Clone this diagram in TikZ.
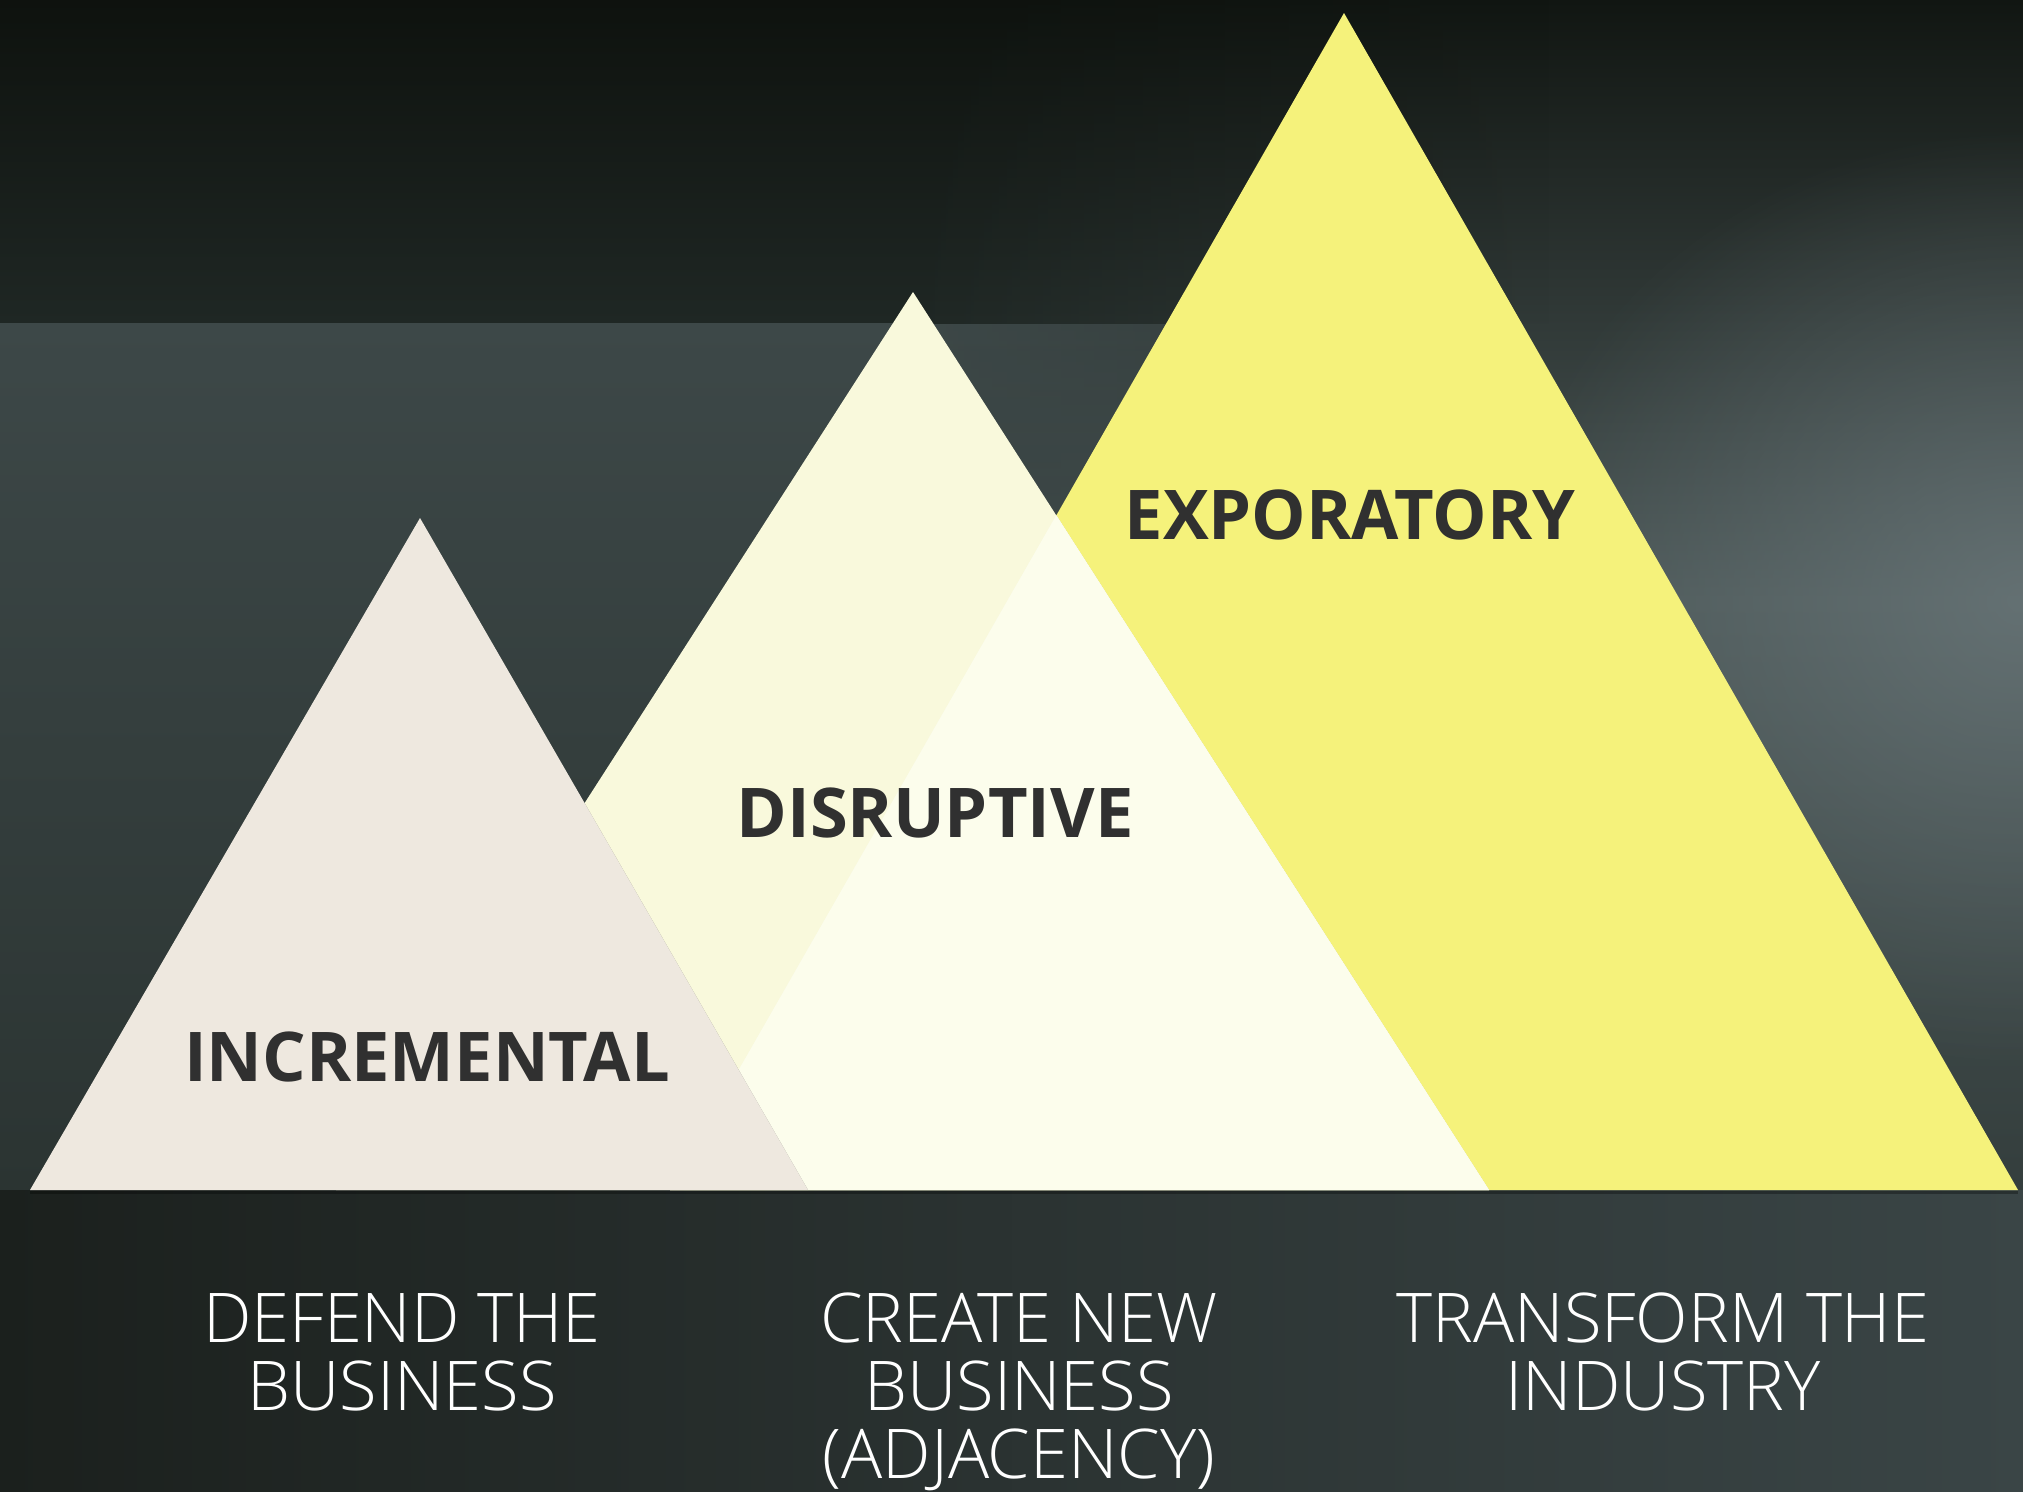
\documentclass[tikz,border=0pt]{standalone}
\usepackage{fontspec}
\setmainfont{Open Sans}
\IfFontExistsTF{Open Sans Light}{\newfontfamily\lightfont{Open Sans Light}}{\newfontfamily\lightfont{Open Sans}}
\usetikzlibrary{fadings,calc}
\definecolor{rtop}{HTML}{111612}
\definecolor{rmid}{HTML}{4C5858}
\definecolor{rbot}{HTML}{343E3D}
\definecolor{bandA}{HTML}{0E120E}
\definecolor{bandB}{HTML}{1F2724}
\definecolor{midA}{HTML}{3D4848}
\definecolor{midB}{HTML}{2B3432}
\definecolor{bgbotL}{HTML}{1B201D}
\definecolor{bgbotR}{HTML}{3A4546}
\definecolor{glowc}{HTML}{6E7B7E}
\definecolor{triA}{HTML}{EEE8DF}
\definecolor{triB}{HTML}{F9F9DC}
\definecolor{triBC}{HTML}{FCFDEC}
\definecolor{triC}{HTML}{F5F27B}
\definecolor{txtdark}{HTML}{303030}
\tikzfading[name=glowfade, inner color=transparent!0, outer color=transparent!100]
\tikzfading[name=fadeLR, left color=transparent!0, right color=transparent!100]
\begin{document}
\begin{tikzpicture}[x=1pt,y=-1pt,
  boldlbl/.style={font=\bfseries\fontsize{68.6}{68}\selectfont, text=txtdark, inner sep=0pt, anchor=base},
  lightlbl/.style={font=\lightfont\fontsize{68.6}{68}\selectfont, text=white, inner sep=0pt, anchor=north, align=center},
  shadowfill/.style={fill=black, opacity=0.08}]
\useasboundingbox (0,0) rectangle (2023,1491);
% ---------- background: smooth right-hand look ----------
\shade[top color=rtop, bottom color=rmid] (0,0) rectangle (2023,600);
\shade[top color=rmid, bottom color=rbot] (0,600) rectangle (2023,1190);
% ---------- background: banded left-hand look ----------
\shade[top color=bandA, bottom color=bandB] (0,0) rectangle (900,323);
\shade[top color=midA, bottom color=midB] (0,323) rectangle (900,1190);
\shade[top color=bandA, bottom color=bandB, path fading=fadeLR] (899,0) rectangle (1550,323);
\shade[top color=midA, bottom color=midB, path fading=fadeLR] (899,323) rectangle (1550,1190);
% glow on the right
\fill[glowc, opacity=0.7, path fading=glowfade] (2020,600) ellipse (520 and 470);
% below the base
\shade[left color=bgbotL, right color=bgbotR] (0,1190) rectangle (2023,1491);
% ---------- triangle corners ----------
\coordinate (A1) at (420,518);  \coordinate (L1) at (30,1190);  \coordinate (R1) at (808,1190);
\coordinate (A2) at (913,292);  \coordinate (L2) at (336,1190); \coordinate (R2) at (1489,1190);
\coordinate (A3) at (1344,13);  \coordinate (L3) at (670,1190); \coordinate (R3) at (2018,1190);
% ---------- exploratory (back) ----------
\fill[triC] (A3) -- (L3) -- (R3) -- cycle;
% shadow of disruptive on exploratory
\begin{scope}
  \clip (A3) -- (L3) -- (R3) -- cycle;
  \foreach \d in {3,6,9,12}{
    \fill[shadowfill, xshift=\d pt] (A2) -- (L2) -- (R2) -- cycle;
  }
\end{scope}
% ---------- disruptive ----------
\fill[triB] (A2) -- (L2) -- (R2) -- cycle;
\begin{scope}
  \clip (A2) -- (L2) -- (R2) -- cycle;
  \foreach \d in {-10,-5,0}{
    \fill[triBC, opacity=0.5, xshift=\d pt] (A3) -- (L3) -- (R3) -- cycle;
  }
  \fill[triBC] (A3) -- (L3) -- (R3) -- cycle;
  % shadow of incremental on disruptive
  \foreach \d in {3,6,9,12,15}{
    \fill[shadowfill, xshift=\d pt] (A1) -- (L1) -- (R1) -- cycle;
  }
\end{scope}
% ---------- incremental (front) ----------
\fill[triA] (A1) -- (L1) -- (R1) -- cycle;
% base shadow line
\draw[black, opacity=0.3, line width=3pt] ($(L1)+(0,2)$) -- ($(R3)+(0,2)$);
% ---------- labels ----------
\node[boldlbl] (exp) at (1350,539) {EXPORATORY};
\node[boldlbl] (dis) at (935,837) {DISRUPTIVE};
\node[boldlbl] (inc) at (427,1081) {INCREMENTAL};
\node[lightlbl] (defend) at (402,1293) {DEFEND THE\\BUSINESS};
\node[lightlbl] (create) at (1019,1293) {CREATE NEW\\BUSINESS\\(ADJACENCY)};
\node[lightlbl] (transform) at (1663,1293) {TRANSFORM THE\\INDUSTRY};
\end{tikzpicture}
\end{document}
